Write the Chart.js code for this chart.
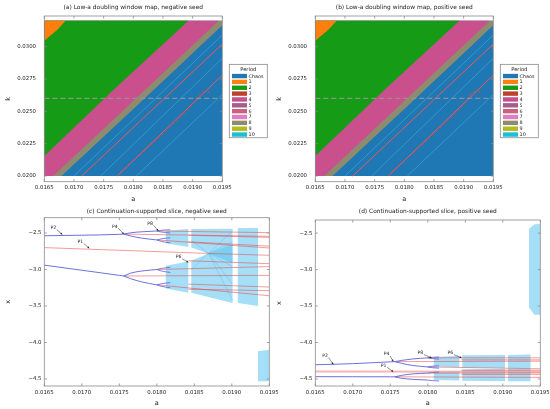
<!DOCTYPE html>
<html>
<head>
<meta charset="utf-8">
<script src="https://cdn.jsdelivr.net/npm/chart.js@4.4.0/dist/chart.umd.min.js"></script>
<style>
  html, body { margin: 0; padding: 0; background: #fff; }
  body { width: 550px; height: 409px; position: relative; overflow: hidden; }
  canvas { position: absolute; }
</style>
</head>
<body>
<canvas id="mapNeg" width="275" height="205" style="left:0;top:0"></canvas>
<canvas id="mapPos" width="279" height="205" style="left:271px;top:0"></canvas>
<canvas id="sliceNeg" width="290" height="204" style="left:0;top:205px"></canvas>
<canvas id="slicePos" width="295" height="204" style="left:271px;top:205px"></canvas>
<script>
// axis ticks
const aTicks = [0.0165, 0.0170, 0.0175, 0.0180, 0.0185, 0.0190, 0.0195];
const kTicks = [0.0200, 0.0225, 0.0250, 0.0275, 0.0300];
const xTicks = [-2.5, -3.0, -3.5, -4.0, -4.5];

// extent of the scanned (a, k) window
const A_MIN = 0.0165, A_MAX = 0.0195, K_MIN = 0.0200, K_MAX = 0.0320;
const kSlice = 0.026;

// legend of the regime maps
const periodLabels = ['Chaos', '1', '2', '3', '4', '5', '6', '7', '8', '9', '10'];
const periodColors = ['#1f77b4', '#ff7f0e', '#169b16', '#bb432e', '#c9508d', '#a0608f',
                      '#c9627a', '#e07fc0', '#8d8c6f', '#b3bc1e', '#1bbfd6'];

// regime boundaries (a, k): region above/left of each edge has the lower period
const edge1to2 = [[0.0165, 0.03046], [0.01672, 0.0313], [0.01686, 0.0320]];
const edge2to4 = [[0.0165, 0.02155], [0.0177, 0.0268], [0.01893, 0.0320]];
const edge4to8 = [[0.01665, 0.0200], [0.0180, 0.0258], [0.01944, 0.0320]];
const edge8toChaos = [[0.01679, 0.0200], [0.0181, 0.0256], [0.0195, 0.03165]];

// thin periodic windows inside the chaotic sea
const mapRed = [
  [[0.01713, 0.0200], [0.0195, 0.0302]],
  [[0.01773, 0.0200], [0.0195, 0.0278]]
];
const mapTrail = [[0.01778, 0.0203], [0.0180, 0.0212], [0.0183, 0.0224], [0.0186, 0.0237],
                  [0.0189, 0.0250], [0.01915, 0.0265], [0.0193, 0.0265]];
const mapCyan = [
  [[0.01700, 0.0200], [0.0195, 0.0309]],
  [[0.01745, 0.0200], [0.0195, 0.0291]],
  [[0.01805, 0.0200], [0.0195, 0.0263]]
];

// (c) negative seed: stable branches (a, x)
const negP2Top = [[0.0165, -2.537], [0.0170, -2.530], [0.0175, -2.518], [0.01756, -2.515]];
const negP2Bot = [[0.0165, -2.940], [0.0170, -3.010], [0.0175, -3.080], [0.01756, -3.089]];
const negP4 = [
  [[0.01756, -2.515], [0.01765, -2.497], [0.0178, -2.483], [0.0180, -2.472]],
  [[0.01756, -2.515], [0.01765, -2.540], [0.0178, -2.570], [0.0180, -2.595]],
  [[0.01756, -3.089], [0.01765, -3.050], [0.0178, -3.020], [0.0180, -3.000]],
  [[0.01756, -3.089], [0.01765, -3.125], [0.0178, -3.170], [0.0180, -3.210]]
];
const negP8 = [
  [[0.0180, -2.472], [0.01806, -2.462], [0.01818, -2.455]],
  [[0.0180, -2.472], [0.01806, -2.486], [0.01818, -2.500]],
  [[0.0180, -2.595], [0.01806, -2.580], [0.01818, -2.565]],
  [[0.0180, -2.595], [0.01806, -2.615], [0.01818, -2.635]],
  [[0.0180, -3.000], [0.01806, -2.985], [0.01818, -2.970]],
  [[0.0180, -3.000], [0.01806, -3.020], [0.01818, -3.040]],
  [[0.0180, -3.210], [0.01806, -3.195], [0.01818, -3.180]],
  [[0.0180, -3.210], [0.01806, -3.230], [0.01818, -3.250]]
];
// (c) continued unstable orbits
const negUnstable = [
  [[0.0165, -2.700], [0.0176, -2.740], [0.0187, -2.780], [0.0195, -2.805]],
  [[0.01756, -2.515], [0.0195, -2.545]],
  [[0.01756, -3.089], [0.0195, -3.080]],
  [[0.0180, -2.472], [0.0195, -2.495]],
  [[0.0180, -2.595], [0.0195, -2.705]],
  [[0.0180, -3.000], [0.0195, -2.960]],
  [[0.0180, -3.210], [0.0195, -3.360]],
  [[0.01842, -2.530], [0.0195, -2.560]],
  [[0.01842, -2.620], [0.0195, -2.680]],
  [[0.01842, -2.880], [0.0195, -2.920]],
  [[0.01842, -3.200], [0.0195, -3.240]],
  [[0.01842, -3.270], [0.0195, -3.290]]
];
// (c) chaotic attractor patches
const negCloud = [
  [[0.01812, -2.470], [0.01842, -2.445], [0.01842, -2.690], [0.01812, -2.640]],
  [[0.01846, -2.445], [0.01901, -2.440], [0.01901, -2.910], [0.01869, -2.780], [0.01846, -2.700]],
  [[0.01812, -2.950], [0.01842, -2.890], [0.01842, -3.320], [0.01812, -3.260]],
  [[0.01846, -2.880], [0.01869, -2.780], [0.01901, -2.650], [0.01901, -3.460], [0.01846, -3.320]],
  [[0.01908, -2.430], [0.01935, -2.430], [0.01935, -3.500], [0.01908, -3.460]],
  [[0.01935, -4.120], [0.0195, -4.100], [0.0195, -4.530], [0.01935, -4.530]]
];
// (c) visible fan of folds through the merged band
const negFan = [
  [[0.01846, -2.600], [0.01869, -2.780], [0.01901, -2.470]],
  [[0.01846, -3.000], [0.01869, -2.780], [0.01901, -2.620]],
  [[0.01869, -2.780], [0.01901, -2.960]],
  [[0.01869, -2.780], [0.01901, -3.200]],
  [[0.01869, -2.780], [0.01901, -3.420]]
];

// (d) positive seed: stable branches
const posP2Top = [[0.0165, -4.305], [0.0170, -4.290], [0.0175, -4.265], [0.01756, -4.262]];
const posP2Bot = [[0.0165, -4.468], [0.0170, -4.469], [0.0175, -4.470], [0.01756, -4.470]];
const posP4 = [
  [[0.01756, -4.262], [0.01765, -4.245], [0.0178, -4.225], [0.0180, -4.210]],
  [[0.01756, -4.262], [0.01765, -4.285], [0.0178, -4.315], [0.0180, -4.335]],
  [[0.01756, -4.470], [0.01765, -4.450], [0.0178, -4.430], [0.0180, -4.420]],
  [[0.01756, -4.470], [0.01765, -4.490], [0.0178, -4.505], [0.0180, -4.515]]
];
const posP8 = [
  [[0.0180, -4.210], [0.01806, -4.203], [0.01815, -4.198]],
  [[0.0180, -4.210], [0.01806, -4.220], [0.01815, -4.228]],
  [[0.0180, -4.335], [0.01806, -4.325], [0.01815, -4.318]],
  [[0.0180, -4.335], [0.01806, -4.345], [0.01815, -4.352]],
  [[0.0180, -4.420], [0.01806, -4.410], [0.01815, -4.405]],
  [[0.0180, -4.515], [0.01806, -4.522], [0.01815, -4.527]]
];
const posP1 = [[0.0165, -4.396], [0.0195, -4.400]];
const posUnstable = [
  [[0.01756, -4.262], [0.0195, -4.256]],
  [[0.01756, -4.470], [0.0195, -4.478]],
  [[0.0180, -4.210], [0.0195, -4.210]],
  [[0.0180, -4.335], [0.0195, -4.360]],
  [[0.0180, -4.420], [0.0195, -4.416]],
  [[0.01845, -4.238], [0.0195, -4.238]],
  [[0.01845, -4.380], [0.0195, -4.380]],
  [[0.01845, -4.437], [0.0195, -4.437]]
];
const posCloud = [
  [[0.01808, -4.200], [0.01842, -4.180], [0.01842, -4.340], [0.01808, -4.330]],
  [[0.01846, -4.175], [0.01903, -4.170], [0.01903, -4.350], [0.01846, -4.345]],
  [[0.01907, -4.170], [0.01937, -4.165], [0.01937, -4.360], [0.01907, -4.355]],
  [[0.01808, -4.400], [0.01842, -4.395], [0.01842, -4.520], [0.01808, -4.515]],
  [[0.01846, -4.370], [0.01903, -4.360], [0.01903, -4.530], [0.01846, -4.525]],
  [[0.01907, -4.360], [0.01937, -4.360], [0.01937, -4.530], [0.01907, -4.530]],
  [[0.01935, -2.440], [0.01942, -2.380], [0.0195, -2.370], [0.0195, -3.620], [0.01942, -3.620], [0.01935, -3.520]]
];

// orbit labels: text, label (a, x), arrow tip (a, x)
const negNotes = [
  ['P2', 0.01662, -2.43, 0.01674, -2.52],
  ['P4', 0.01744, -2.41, 0.01756, -2.515],
  ['P8', 0.01791, -2.37, 0.01802, -2.47],
  ['P1', 0.01698, -2.62, 0.0171, -2.71],
  ['P6', 0.01829, -2.83, 0.01842, -2.90]
];
const posNotes = [
  ['P2', 0.01663, -4.18, 0.01674, -4.30],
  ['P4', 0.01745, -4.16, 0.01754, -4.26],
  ['P1', 0.01741, -4.315, 0.01754, -4.40],
  ['P8', 0.0179, -4.14, 0.01805, -4.21],
  ['P6', 0.0183, -4.14, 0.01845, -4.21]
];

const FONT = 'DejaVu Sans';
const tickFont = {family: FONT, size: 5.4};
const axisFont = {family: FONT, size: 6.5};

function pts(list) {
  return list.map(p => ({x: p[0], y: p[1]}));
}

function lineSet(list, color, width, extra) {
  return Object.assign({
    data: pts(list), borderColor: color, borderWidth: width,
    pointRadius: 0, fill: false, tension: 0
  }, extra || {});
}

function patchSet(list, color) {
  return {
    data: pts(list), borderWidth: 0, borderColor: 'rgba(0,0,0,0)',
    backgroundColor: color, pointRadius: 0, fill: 'shape'
  };
}

function regionAbove(edge) {
  const poly = [[A_MIN, K_MAX]];
  if (edge[0][0] > A_MIN) poly.push([A_MIN, K_MIN]);
  edge.forEach(p => poly.push(p));
  if (edge[edge.length - 1][1] < K_MAX) poly.push([A_MAX, K_MAX]);
  return poly;
}

// plot frame with small inward ticks
const frame = {
  id: 'frame',
  afterDatasetsDraw(chart) {
    const {ctx, chartArea: c, scales} = chart;
    ctx.save();
    ctx.strokeStyle = '#8a8a8a';
    ctx.lineWidth = 0.8;
    ctx.strokeRect(c.left, c.top, c.right - c.left, c.bottom - c.top);
    ctx.beginPath();
    scales.x.ticks.forEach(t => {
      const px = scales.x.getPixelForValue(t.value);
      ctx.moveTo(px, c.bottom); ctx.lineTo(px, c.bottom - 2.5);
      ctx.moveTo(px, c.top); ctx.lineTo(px, c.top + 2.5);
    });
    scales.y.ticks.forEach(t => {
      const py = scales.y.getPixelForValue(t.value);
      ctx.moveTo(c.left, py); ctx.lineTo(c.left + 2.5, py);
      ctx.moveTo(c.right, py); ctx.lineTo(c.right - 2.5, py);
    });
    ctx.stroke();
    ctx.restore();
  }
};

const panelTitle = {
  id: 'panelTitle',
  afterDraw(chart, args, opts) {
    const {ctx, chartArea: c} = chart;
    ctx.save();
    ctx.font = '5.9px "' + FONT + '"';
    ctx.fillStyle = '#222';
    ctx.textAlign = 'center';
    ctx.textBaseline = 'middle';
    ctx.fillText(opts.text, (c.left + c.right) / 2, opts.y);
    ctx.restore();
  }
};

const periodLegend = {
  id: 'periodLegend',
  afterDraw(chart, args, opts) {
    if (!opts.show) return;
    const {ctx, chartArea: c} = chart;
    const left = c.right + 7, w = 38, h = 73.4, row = 5.85;
    const top = (c.top + c.bottom) / 2 - 34.5;
    ctx.save();
    ctx.fillStyle = '#fff';
    ctx.fillRect(left, top, w, h);
    ctx.strokeStyle = '#8a8a8a';
    ctx.lineWidth = 0.8;
    ctx.strokeRect(left, top, w, h);
    ctx.fillStyle = '#222';
    ctx.textBaseline = 'middle';
    ctx.textAlign = 'center';
    ctx.font = '5.2px "' + FONT + '"';
    ctx.fillText('Period', left + w / 2, top + 5.2);
    ctx.textAlign = 'left';
    ctx.font = '4.9px "' + FONT + '"';
    periodLabels.forEach((lab, i) => {
      const y = top + 11.7 + i * row;
      ctx.fillStyle = periodColors[i];
      ctx.fillRect(left + 2.7, y - 2.2, 15, 4.4);
      ctx.fillStyle = '#222';
      ctx.fillText(lab, left + 19.3, y + 0.2);
    });
    ctx.restore();
  }
};

const orbitNotes = {
  id: 'orbitNotes',
  afterDatasetsDraw(chart, args, opts) {
    if (!opts.notes) return;
    const {ctx, scales} = chart;
    ctx.save();
    ctx.font = '4.6px "' + FONT + '"';
    ctx.textAlign = 'center';
    ctx.textBaseline = 'middle';
    opts.notes.forEach(n => {
      const lx = scales.x.getPixelForValue(n[1]), ly = scales.y.getPixelForValue(n[2]);
      const tx = scales.x.getPixelForValue(n[3]), ty = scales.y.getPixelForValue(n[4]);
      ctx.fillStyle = '#222';
      ctx.fillText(n[0], lx, ly);
      const sx = lx + 3.5, sy = ly + 1.8;
      ctx.strokeStyle = '#222';
      ctx.lineWidth = 0.5;
      ctx.beginPath();
      ctx.moveTo(sx, sy);
      ctx.lineTo(tx, ty);
      ctx.stroke();
      const ang = Math.atan2(ty - sy, tx - sx);
      ctx.beginPath();
      ctx.moveTo(tx, ty);
      ctx.lineTo(tx - 2.2 * Math.cos(ang - 0.45), ty - 2.2 * Math.sin(ang - 0.45));
      ctx.lineTo(tx - 2.2 * Math.cos(ang + 0.45), ty - 2.2 * Math.sin(ang + 0.45));
      ctx.closePath();
      ctx.fill();
    });
    ctx.restore();
  }
};

function aAxis(height, pad) {
  return {
    type: 'linear', min: A_MIN, max: A_MAX,
    afterBuildTicks: s => { s.ticks = aTicks.map(v => ({value: v})); },
    afterFit: s => { s.height = height; },
    grid: {display: false, drawTicks: false},
    border: {display: false},
    ticks: {font: tickFont, color: '#222', padding: pad, maxRotation: 0, autoSkip: false,
            callback: v => v.toFixed(4)},
    title: {display: true, text: 'a', font: axisFont, color: '#222', padding: {top: 1, bottom: 2}}
  };
}

function vAxis(min, max, ticks, fmt, label, pad) {
  return {
    type: 'linear', min: min, max: max,
    afterBuildTicks: s => { s.ticks = ticks.map(v => ({value: v})); },
    afterFit: s => { s.width = 44.3; },
    grid: {display: false, drawTicks: false},
    border: {display: false},
    ticks: {font: tickFont, color: '#222', padding: pad, autoSkip: false, callback: fmt},
    title: {display: true, text: label, font: axisFont, color: '#222', padding: {top: 4, bottom: 0}}
  };
}

function mapDatasets() {
  const sets = [];
  sets.push(lineSet([[A_MIN, kSlice], [A_MAX, kSlice]], 'rgba(150,150,150,0.85)', 1.3, {borderDash: [5, 3]}));
  mapRed.forEach(l => sets.push(lineSet(l, 'rgba(236,88,88,1)', 1)));
  sets.push(lineSet(mapTrail, 'rgba(222,72,60,0.95)', 0.9, {borderDash: [3, 2]}));
  mapCyan.forEach(l => sets.push(lineSet(l, 'rgba(70,205,235,0.6)', 0.7)));
  sets.push(patchSet(regionAbove(edge1to2), periodColors[1]));
  sets.push(patchSet(regionAbove(edge2to4), periodColors[2]));
  sets.push(patchSet(regionAbove(edge4to8), periodColors[4]));
  sets.push(patchSet(regionAbove(edge8toChaos), periodColors[8]));
  sets.push(patchSet([[A_MIN, K_MIN], [A_MAX, K_MIN], [A_MAX, K_MAX], [A_MIN, K_MAX]], periodColors[0]));
  return sets;
}

function sliceDatasets(top, bot, p4, p8, unstable, cloud, fan, p1) {
  const blue = '#5a62d8';
  const smooth = {cubicInterpolationMode: 'monotone'};
  const sets = [];
  [top, bot].forEach(l => sets.push(lineSet(l, blue, 0.9, smooth)));
  p4.forEach(l => sets.push(lineSet(l, blue, 0.9, smooth)));
  p8.forEach(l => sets.push(lineSet(l, blue, 0.8, smooth)));
  unstable.forEach(l => sets.push(lineSet(l, 'rgba(235,70,70,0.6)', 0.9)));
  if (p1) sets.push(lineSet(p1, 'rgba(245,150,150,0.7)', 2));
  fan.forEach(l => sets.push(lineSet(l, 'rgba(50,170,230,0.55)', 0.5)));
  cloud.forEach(l => sets.push(patchSet(l, 'rgba(90,195,240,0.55)')));
  return sets;
}

function makeChart(id, datasets, scales, pad, plugins) {
  return new Chart(document.getElementById(id), {
    type: 'line',
    data: {datasets: datasets},
    options: {
      responsive: false,
      animation: false,
      events: [],
      layout: {padding: pad},
      scales: scales,
      plugins: Object.assign({legend: {display: false}, tooltip: {enabled: false}}, plugins)
    },
    plugins: [frame, panelTitle, periodLegend, orbitNotes]
  });
}

const kFmt = v => v.toFixed(4);
const xFmt = v => (v < 0 ? '\u2212' : '') + Math.abs(v).toFixed(1);

makeChart('mapNeg', mapDatasets(),
  {x: aAxis(23.3, 2.4), y: vAxis(0.01956, 0.03237, kTicks, kFmt, 'k', 8.3)},
  {left: 0, top: 16, right: 52.7, bottom: 0},
  {panelTitle: {text: '(a) Low-a doubling window map, negative seed', y: 7}, periodLegend: {show: true}});

makeChart('mapPos', mapDatasets(),
  {x: aAxis(23.3, 2.4), y: vAxis(0.01956, 0.03237, kTicks, kFmt, 'k', 8.3)},
  {left: 0, top: 16, right: 56.7, bottom: 0},
  {panelTitle: {text: '(b) Low-a doubling window map, positive seed', y: 7}, periodLegend: {show: true}});

makeChart('sliceNeg', sliceDatasets(negP2Top, negP2Bot, negP4, negP8, negUnstable, negCloud, negFan, null),
  {x: aAxis(23, 3.1), y: vAxis(-4.596, -2.29, xTicks, xFmt, 'x', 2.8)},
  {left: 0, top: 12.7, right: 20.7, bottom: 0},
  {panelTitle: {text: '(c) Continuation-supported slice, negative seed', y: 6}, orbitNotes: {notes: negNotes}});

makeChart('slicePos', sliceDatasets(posP2Top, posP2Bot, posP4, posP8, posUnstable, posCloud, [], posP1),
  {x: aAxis(23, 3.1), y: vAxis(-4.596, -2.32, xTicks, xFmt, 'x', 2.8)},
  {left: 0, top: 15, right: 25.7, bottom: 0},
  {panelTitle: {text: '(d) Continuation-supported slice, positive seed', y: 6}, orbitNotes: {notes: posNotes}});
</script>
</body>
</html>
